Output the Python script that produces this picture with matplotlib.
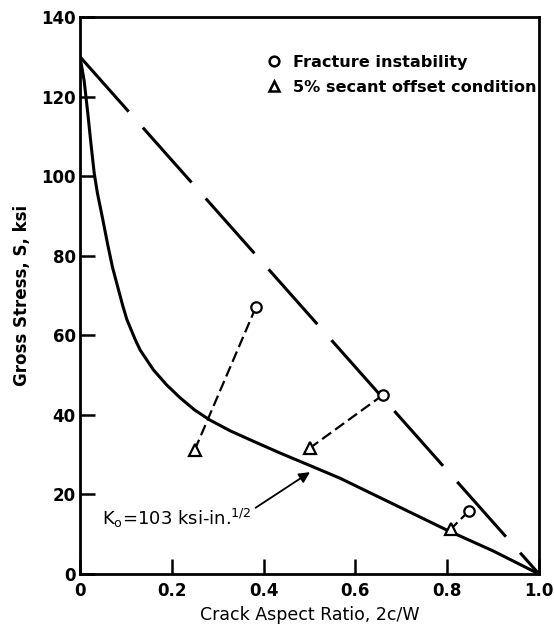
import matplotlib
matplotlib.use("Agg")
import matplotlib.pyplot as plt
from matplotlib.lines import Line2D

plt.rcParams['font.family'] = ['DejaVu Sans']

# Data
curve_x = [0, 0.009, 0.017, 0.024, 0.031, 0.038, 0.049, 0.060, 0.071, 0.093,
           0.102, 0.12, 0.131, 0.16, 0.189, 0.218, 0.25, 0.283, 0.327, 0.377,
           0.436, 0.494, 0.566, 0.7, 0.8, 0.9, 1.0]
curve_s = [130, 124, 115.8, 108, 100.7, 95.7, 89.5, 83, 77.0, 67.5,
           64.0, 59.0, 56.3, 51.3, 47.5, 44.3, 41.2, 38.7, 36.0, 33.4,
           30.4, 27.6, 24.1, 16.6, 11.0, 5.8, 0]
limit_x = [0, 1.0]
limit_s = [130, 0]
frac_x = [0.383, 0.66, 0.847]
frac_s = [67, 45, 15.8]
secant_x = [0.25, 0.50, 0.808]
secant_s = [31.2, 31.6, 11.3]
xticks = [0, 0.2, 0.4, 0.6, 0.8, 1.0]
xticklabels = ["0", "0.2", "0.4", "0.6", "0.8", "1.0"]
yticks = [0, 20, 40, 60, 80, 100, 120, 140]
legend_labels = ["Fracture instability", "5% secant offset condition"]
annot_text = r"K$_\mathregular{o}$=103 ksi-in.$^{1/2}$"
annot_xy = (0.501, 25.6)
annot_text_xy = (0.048, 12.3)

fig = plt.figure(figsize=(5.54, 6.34), dpi=100)
ax = fig.add_axes([80/554, 1-574/634, 459/554, 557/634])

ax.plot(curve_x, curve_s, color='black', lw=2.2, solid_joinstyle='round',
        solid_capstyle='round', zorder=3)
ax.plot(limit_x, limit_s, color='black', lw=2.2, dashes=(24, 7), zorder=3)

for fx, fs, sx, ss in zip(frac_x, frac_s, secant_x, secant_s):
    ax.plot([fx, sx], [fs, ss], color='black', lw=1.6, dashes=(5, 2.2), zorder=3)

ax.plot(frac_x, frac_s, linestyle='none', marker='o', ms=7.5, mfc='white',
        mec='black', mew=1.6, zorder=5)
ax.plot(secant_x, secant_s, linestyle='none', marker='^', ms=8, mfc='white',
        mec='black', mew=1.6, zorder=5)

handles = [
    Line2D([], [], linestyle='none', marker='o', ms=7, mfc='white', mec='black', mew=1.8),
    Line2D([], [], linestyle='none', marker='^', ms=7.5, mfc='white', mec='black', mew=1.8),
]
ax.legend(handles, legend_labels, loc='upper left', bbox_to_anchor=(0.405, 0.932),
          frameon=False, borderpad=0, borderaxespad=0, handlelength=1.0,
          handletextpad=0.7, labelspacing=0.62, prop={'size': 11.6, 'weight': 'bold'})

ax.annotate(annot_text, xy=annot_xy, xytext=annot_text_xy, fontsize=13,
            ha='left', va='baseline',
            arrowprops=dict(arrowstyle='-|>', color='black', lw=1.3,
                            mutation_scale=16, shrinkA=1, shrinkB=0,
                            relpos=(1.0, 0.85)))

ax.set_xlim(0, 1.0)
ax.set_ylim(0, 140)
ax.set_xticks(xticks)
ax.set_xticklabels(xticklabels)
ax.set_yticks(yticks)
ax.tick_params(direction='in', length=11, width=1.8, labelsize=12,
               top=False, right=False)
ax.tick_params(axis='x', pad=6)
ax.tick_params(axis='y', pad=3)
for lab in ax.get_xticklabels() + ax.get_yticklabels():
    lab.set_fontweight('bold')
for sp in ax.spines.values():
    sp.set_linewidth(2.0)

ax.set_xlabel("Crack Aspect Ratio, 2c/W", fontsize=12.5, labelpad=4)
ax.set_ylabel("Gross Stress, S, ksi", fontsize=12, fontweight='bold', labelpad=7)

fig.savefig("out.png", dpi=100)
